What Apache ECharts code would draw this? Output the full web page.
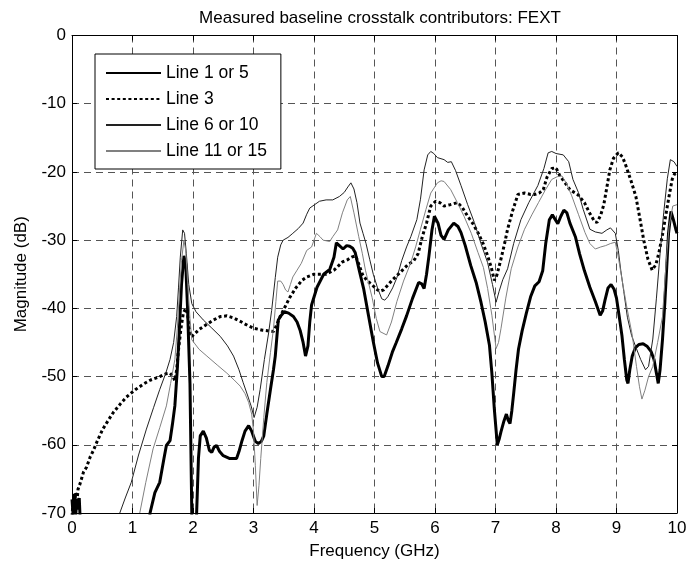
<!DOCTYPE html>
<html>
<head>
<meta charset="utf-8">
<script src="https://cdn.jsdelivr.net/npm/echarts@6/dist/echarts.min.js"></script>
<style>html,body{margin:0;padding:0;background:#fff}#c{width:690px;height:565px}</style>
</head>
<body>
<div id="c"></div>
<script>
const FONT = 'Liberation Sans, Arial, Helvetica, sans-serif';
const xTicks = [0,1,2,3,4,5,6,7,8,9,10];
const yTicks = [0,-10,-20,-30,-40,-50,-60,-70];
const seriesNames = ['Line 1 or 5','Line 3','Line 6 or 10','Line 11 or 15'];

const line1Freq = [0.00,0.02,0.04,0.06,0.08,0.10,0.12,0.14,0.20,1.20,1.29,1.37,1.45,1.52,1.56,1.62,1.66,1.70,1.74,1.77,1.81,1.85,1.88,1.91,1.95,1.98,1.99,2.05,2.06,2.09,2.12,2.17,2.22,2.27,2.31,2.35,2.39,2.44,2.50,2.60,2.72,2.76,2.81,2.86,2.92,2.97,3.03,3.08,3.13,3.17,3.22,3.28,3.33,3.36,3.41,3.46,3.51,3.58,3.66,3.72,3.77,3.82,3.86,3.90,3.93,3.96,4.05,4.16,4.26,4.33,4.37,4.42,4.48,4.54,4.59,4.64,4.68,4.75,4.82,4.90,4.98,5.05,5.12,5.16,5.22,5.30,5.36,5.45,5.53,5.63,5.73,5.78,5.82,5.86,5.90,5.95,5.99,6.05,6.10,6.15,6.22,6.31,6.38,6.43,6.50,6.59,6.68,6.76,6.83,6.90,6.94,6.98,7.03,7.06,7.09,7.14,7.18,7.21,7.24,7.27,7.30,7.34,7.38,7.44,7.51,7.58,7.65,7.72,7.78,7.83,7.89,7.94,7.97,8.03,8.08,8.13,8.18,8.23,8.32,8.39,8.47,8.56,8.65,8.73,8.77,8.81,8.86,8.91,8.96,9.00,9.05,9.09,9.13,9.17,9.19,9.22,9.26,9.31,9.37,9.44,9.51,9.57,9.62,9.66,9.69,9.72,9.76,9.80,9.83,9.86,9.90,9.94,9.98,10.0];
const line1Mag = [-68.0,-70.5,-67.2,-70.5,-68.0,-69.5,-67.8,-72,-80,-80,-70,-67,-65.5,-62,-60.1,-59.4,-57,-54.3,-49,-44,-36.5,-32.3,-33.5,-40,-51,-70,-80,-80,-70,-62,-58.7,-58.0,-59,-60.8,-61.1,-60.3,-60.1,-61,-61.6,-62,-62,-61,-59.4,-58,-57.2,-58,-59.5,-59.8,-59.5,-58.7,-55.5,-51.9,-49,-47,-41.7,-41,-40.5,-40.7,-41.2,-42,-43.2,-45,-47,-45.5,-42,-39.5,-36.9,-35,-34.3,-32.5,-30.4,-30.8,-31.3,-30.8,-30.9,-31.2,-31.8,-34.5,-37.1,-41,-44.9,-48,-50,-50,-48.5,-46.3,-45,-43,-41.1,-38.5,-36.2,-36.4,-37.1,-35,-32.3,-28.5,-26.5,-27.5,-29.3,-29.9,-28.5,-27.5,-28,-28.9,-30.8,-33.7,-36.2,-39.1,-42,-45.4,-49.5,-54.7,-60,-59.2,-58.1,-56.5,-55.5,-56.4,-56.9,-55,-52.5,-49,-46,-43.3,-40.7,-38.3,-36.7,-36.1,-34.5,-30.5,-27,-26.3,-26.4,-27.6,-26.5,-25.6,-26,-27.5,-29.5,-32,-34.5,-36.9,-39,-41,-40.4,-38.8,-37,-36.5,-37.2,-38.5,-41.5,-44,-47.5,-50.5,-51,-49,-47,-45.8,-45.3,-45.2,-45.6,-46.3,-47.5,-49.5,-51,-49,-44.6,-39,-34,-29,-25.8,-27,-28.4,-29.0];

const line3Freq = [0.00,0.02,0.04,0.06,0.08,0.10,0.13,0.15,0.19,0.24,0.30,0.35,0.43,0.51,0.60,0.68,0.80,0.90,1.05,1.18,1.30,1.45,1.55,1.62,1.67,1.70,1.73,1.76,1.80,1.84,1.88,1.91,1.94,1.97,2.02,2.10,2.20,2.34,2.45,2.56,2.67,2.78,2.90,3.00,3.15,3.33,3.38,3.44,3.52,3.60,3.70,3.80,3.88,4.00,4.10,4.20,4.33,4.40,4.47,4.55,4.62,4.69,4.74,4.80,4.88,4.96,5.03,5.09,5.15,5.22,5.30,5.37,5.45,5.55,5.65,5.72,5.79,5.86,5.93,6.01,6.08,6.15,6.25,6.37,6.45,6.54,6.62,6.71,6.80,6.87,6.93,6.98,7.02,7.09,7.15,7.20,7.28,7.37,7.48,7.58,7.65,7.72,7.79,7.85,7.93,8.00,8.06,8.15,8.23,8.37,8.47,8.56,8.64,8.68,8.74,8.79,8.84,8.89,8.95,9.03,9.10,9.16,9.24,9.32,9.38,9.45,9.52,9.59,9.65,9.70,9.76,9.81,9.87,9.92,9.96,10.0];
const line3Mag = [-70.5,-68,-69.5,-67,-68.5,-66.5,-65.8,-65.2,-64,-63.3,-61.8,-60.9,-59.2,-57.7,-56.4,-55.3,-54,-53,-51.9,-51.1,-50.5,-50,-49.6,-49.5,-50,-50.6,-49,-46.1,-43,-40.7,-40,-40.8,-43,-44.2,-43.8,-43.1,-42.5,-41.7,-41.2,-41.1,-41.4,-41.9,-42.5,-42.9,-43.2,-43.4,-42.5,-41.2,-39.8,-38.4,-37,-35.9,-35.4,-35,-35,-35,-34.4,-33.8,-33.2,-32.9,-32.5,-32.3,-33.5,-35,-36,-36.5,-37.2,-37.5,-37.3,-36.6,-35.8,-35.2,-34.5,-33.6,-33,-32,-29.5,-27.5,-25,-24.3,-24.5,-25,-24.8,-24.5,-25.2,-26.5,-27.5,-28.9,-30.6,-32.3,-34,-35.9,-35.2,-32.8,-30.5,-28.4,-25.8,-23.3,-23.1,-23.3,-23.3,-23.1,-22.6,-20.8,-19.5,-19.4,-20.5,-21.6,-22.6,-23.4,-24.5,-26.1,-27.3,-27.4,-26.3,-24.8,-22.3,-19.7,-18,-17.2,-17.8,-19.2,-21.3,-23.6,-26.5,-30,-32.8,-34.4,-33.6,-31.9,-29.2,-26.6,-23.5,-21.1,-20.3,-20.0];

const line6Freq = [0.79,0.88,0.98,1.10,1.23,1.35,1.45,1.55,1.62,1.68,1.73,1.76,1.79,1.83,1.86,1.89,1.93,1.98,2.05,2.17,2.30,2.45,2.57,2.67,2.76,2.83,2.90,2.96,3.01,3.06,3.11,3.18,3.25,3.30,3.36,3.40,3.45,3.49,3.57,3.65,3.74,3.82,3.88,3.93,4.01,4.09,4.20,4.31,4.42,4.50,4.56,4.61,4.66,4.71,4.76,4.81,4.86,4.92,4.98,5.05,5.12,5.17,5.22,5.30,5.37,5.45,5.53,5.60,5.70,5.76,5.82,5.88,5.93,5.98,6.04,6.15,6.21,6.27,6.34,6.43,6.54,6.65,6.76,6.87,6.95,7.01,7.06,7.12,7.20,7.30,7.42,7.55,7.70,7.80,7.87,7.93,8.00,8.12,8.21,8.28,8.37,8.45,8.56,8.65,8.76,8.84,8.90,8.98,9.03,9.07,9.12,9.18,9.25,9.32,9.40,9.48,9.53,9.60,9.66,9.72,9.78,9.84,9.89,9.95,10.0];
const line6Mag = [-70,-67.8,-65.5,-61.5,-57.7,-54.5,-51.9,-49.5,-47.5,-45,-41.2,-37,-32.5,-28.5,-29,-32,-36.5,-39.3,-40.5,-41.7,-42.8,-44.1,-45.5,-47,-49,-50.9,-52.7,-54.3,-56,-54.5,-51.9,-47.5,-43.6,-40.3,-35.5,-32.5,-30.7,-30,-29.6,-29,-28.3,-27.5,-26.2,-25.3,-24.8,-24.3,-24.1,-24.1,-23.6,-23,-22.2,-21.6,-22.5,-24.5,-27.5,-29,-30.5,-32.8,-35,-37,-38.6,-38.8,-38.3,-37,-35.5,-33,-31,-29.5,-27,-24,-19.7,-17.5,-17,-17.3,-17.9,-18.2,-18.6,-18.5,-19.8,-22,-24.8,-27.4,-30.5,-33.3,-36.5,-39.1,-37.5,-35.8,-34.2,-30.5,-27,-24.5,-22,-19.5,-17.2,-17,-17.3,-17.5,-18.5,-21.1,-23,-25.5,-28.4,-28.8,-29,-28.5,-28.2,-29,-31.5,-34.4,-37.5,-41.3,-44,-45.7,-47.5,-49,-48.5,-44.5,-38.5,-32,-26,-21,-18.2,-18.5,-19.2];

const line11Freq = [1.12,1.22,1.34,1.45,1.56,1.63,1.70,1.74,1.77,1.81,1.85,1.88,1.91,1.95,1.98,2.10,2.23,2.40,2.56,2.68,2.78,2.86,2.92,2.97,3.00,3.03,3.06,3.09,3.12,3.17,3.22,3.28,3.33,3.37,3.40,3.45,3.49,3.53,3.57,3.61,3.65,3.72,3.79,3.88,3.96,4.04,4.10,4.15,4.26,4.31,4.39,4.47,4.55,4.60,4.66,4.74,4.80,4.85,4.96,5.03,5.09,5.20,5.28,5.37,5.48,5.60,5.68,5.76,5.85,5.93,6.04,6.10,6.15,6.26,6.37,6.48,6.60,6.71,6.80,6.87,6.94,7.01,7.05,7.09,7.17,7.26,7.37,7.48,7.60,7.71,7.82,7.93,8.02,8.10,8.18,8.26,8.37,8.48,8.56,8.65,8.74,8.82,8.90,8.98,9.03,9.09,9.17,9.26,9.33,9.38,9.42,9.47,9.53,9.60,9.68,9.76,9.82,9.87,9.93,10.0];
const line11Mag = [-70,-65.5,-60.6,-57.5,-54.3,-51,-47.5,-43,-38.5,-33,-30,-31.5,-36,-41.5,-44.6,-46,-47,-48.3,-49.5,-50.5,-51.4,-52.5,-53.8,-55.5,-58,-63,-68.9,-66,-62,-56,-50.9,-46.5,-43,-39,-36,-36,-36.5,-37.3,-37.6,-36.5,-35.4,-34.4,-33.4,-31.5,-31,-29,-29.5,-30,-30.2,-29.5,-28.5,-26,-24.1,-23.6,-26,-29.5,-32,-34.4,-38.4,-41.5,-43.4,-43.9,-42,-39,-36,-33.3,-31,-28.4,-25.5,-23.1,-21.6,-21.3,-21.4,-22.6,-24.5,-26.5,-29,-31.8,-34,-37.1,-41,-45.9,-45,-43,-38.5,-34.2,-31,-28.4,-26.3,-24.5,-22.7,-21.1,-20.7,-20.6,-21.8,-23.5,-26.2,-28.9,-30.5,-31.3,-31,-30.8,-30.5,-30.3,-32.5,-35.7,-39.8,-43.9,-48.5,-51.5,-53.3,-52,-50,-48.5,-45,-41.2,-33.3,-28,-25,-24.8];

function zip(a, b) { return a.map((v, i) => [v, b[i]]); }

const chart = echarts.init(document.getElementById('c'), null, {renderer: 'canvas'});
const axisCommon = {
  type: 'value',
  axisLine: {show: true, onZero: false, lineStyle: {color: '#000', width: 1}},
  axisTick: {show: true, inside: true, length: 5, lineStyle: {color: '#000'}},
  minorTick: {show: false}
};
const gridDash = {show: true, lineStyle: {color: '#555', type: [7, 5], width: 1}};
chart.setOption({
  animation: false,
  backgroundColor: '#fff',
  title: {
    text: 'Measured baseline crosstalk contributors: FEXT',
    left: 375, top: 5, textAlign: 'center',
    textStyle: {fontFamily: FONT, fontSize: 17, fontWeight: 'normal', color: '#000'}
  },
  grid: {left: 72, right: 13, top: 35.5, bottom: 50.5, containLabel: false},
  legend: {
    show: true, orient: 'vertical', left: 95, top: 54,
    data: seriesNames,
    itemWidth: 55, itemHeight: 14, itemGap: 8,
    padding: [10, 14, 9, 10],
    backgroundColor: '#fff', borderColor: '#000', borderWidth: 1, borderRadius: 0,
    itemStyle: {opacity: 0, borderWidth: 0},
    textStyle: {fontFamily: FONT, fontSize: 17.5, color: '#000'},
    selectedMode: false
  },
  xAxis: [
    Object.assign({}, axisCommon, {
      position: 'bottom', min: 0, max: 10, interval: 1,
      name: 'Frequency (GHz)', nameLocation: 'middle', nameGap: 30,
      nameTextStyle: {fontFamily: FONT, fontSize: 17, color: '#000'},
      axisLabel: {fontFamily: FONT, fontSize: 17, color: '#000', margin: 7,
        formatter: v => xTicks.indexOf(v) >= 0 ? String(v) : ''},
      splitLine: gridDash
    }),
    Object.assign({}, axisCommon, {
      position: 'top', min: 0, max: 10, interval: 1,
      axisLabel: {show: false}, splitLine: {show: false}
    })
  ],
  yAxis: [
    Object.assign({}, axisCommon, {
      position: 'left', min: -70, max: 0, interval: 10,
      name: 'Magnitude (dB)', nameLocation: 'middle', nameGap: 42,
      nameTextStyle: {fontFamily: FONT, fontSize: 17, color: '#000'},
      axisLabel: {fontFamily: FONT, fontSize: 17, color: '#000', margin: 6,
        formatter: v => yTicks.indexOf(v) >= 0 ? String(v) : ''},
      splitLine: gridDash
    }),
    Object.assign({}, axisCommon, {
      position: 'right', min: -70, max: 0, interval: 10,
      axisLabel: {show: false}, splitLine: {show: false}
    })
  ],
  series: [
    {name: seriesNames[0], type: 'line', data: zip(line1Freq, line1Mag), showSymbol: false, symbol: 'none',
      clip: true, lineStyle: {color: '#000', width: 3}, itemStyle: {color: '#000'}, z: 3},
    {name: seriesNames[1], type: 'line', data: zip(line3Freq, line3Mag), showSymbol: false, symbol: 'none',
      clip: true, lineStyle: {color: '#000', width: 3, type: [3, 2.6]}, itemStyle: {color: '#000'}, z: 4},
    {name: seriesNames[2], type: 'line', data: zip(line6Freq, line6Mag), showSymbol: false, symbol: 'none',
      clip: true, lineStyle: {color: '#222', width: 1}, itemStyle: {color: '#222'}, z: 5},
    {name: seriesNames[3], type: 'line', data: zip(line11Freq, line11Mag), showSymbol: false, symbol: 'none',
      clip: true, lineStyle: {color: '#808080', width: 1}, itemStyle: {color: '#808080'}, z: 6}
  ]
});
</script>
</body>
</html>
